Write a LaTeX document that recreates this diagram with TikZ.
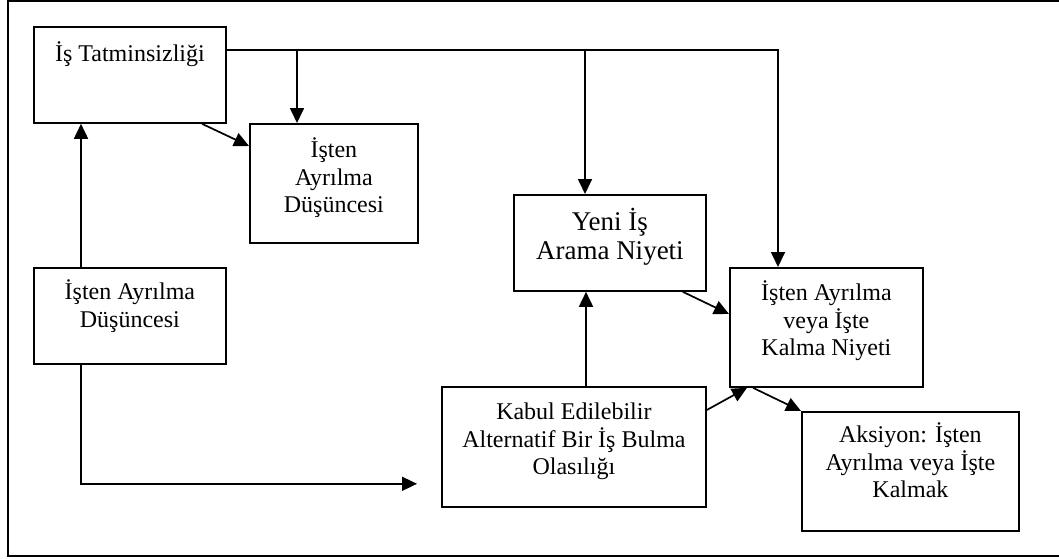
\documentclass[tikz,border=0pt]{standalone}
\usepackage{fontspec}
\setmainfont{Liberation Serif}
\usetikzlibrary{arrows.meta,calc}
% reserve room above the first baseline of every label
\newcommand\tstrut{\rule{0pt}{11pt}}
\newcommand\bstrut{\rule{0pt}{12pt}}
\tikzset{
  box/.style={draw, line width=0.9pt, inner sep=0pt, anchor=north west},
  lbl/.style={inner sep=0pt, anchor=north, align=center,
              font=\fontsize{12}{13.8}\selectfont},
  biglbl/.style={lbl, font=\fontsize{13.5}{14.6}\selectfont},
  arr/.style={line width=0.85pt, -{Triangle[length=7.5pt,width=7pt]}},
  frame/.style={line width=1.2pt}
}
\begin{document}
\begin{tikzpicture}[x=0.5pt, y=-0.5pt]
  \clip (0,0) rectangle (1059,558);
  \draw[frame] (8,1) rectangle (1080,556);

  % boxes
  \node[box, minimum width=96pt,   minimum height=48pt]   (A) at (33,26)   {};
  \node[box, minimum width=84pt,   minimum height=59.5pt] (B) at (249,123) {};
  \node[box, minimum width=96pt,   minimum height=48pt]   (C) at (33,267)  {};
  \node[box, minimum width=96pt,   minimum height=48pt]   (Y) at (513,194) {};
  \node[box, minimum width=96.5pt, minimum height=59.5pt] (D) at (729,267) {};
  \node[box, minimum width=132pt,  minimum height=60pt]   (E) at (441,386) {};
  \node[box, minimum width=108.5pt,minimum height=59.5pt] (F) at (801,411) {};

  % labels, set from the top of each box
  \node[lbl] (At) at ($(A.north)+(0,13)$) {\tstrut İş Tatminsizliği};
  \node[lbl] (Bt) at ($(B.north)+(0,12)$) {\tstrut İşten\\Ayrılma\\Düşüncesi};
  \node[lbl] (Ct) at ($(C.north)+(0,10)$) {\tstrut İşten Ayrılma\\Düşüncesi};
  \node[biglbl] (Yt) at ($(Y.north)+(0,12)$) {\bstrut Yeni İş\\Arama Niyeti};
  \node[lbl] (Dt) at ($(D.north)+(0,11)$) {\tstrut İşten Ayrılma\\veya İşte\\Kalma Niyeti};
  \node[lbl] (Et) at ($(E.north)+(0,11)$) {\tstrut Kabul Edilebilir\\Alternatif Bir İş Bulma\\Olasılığı};
  \node[lbl] (Ft) at ($(F.north)+(0,9)$)  {\tstrut Aksiyon: İşten\\Ayrılma veya İşte\\Kalmak};

  % junctions on the top bus
  \coordinate (j1) at ($(B.north west)+(48,-73)$);
  \coordinate (j2) at ($(Y.north west)+(72,-144)$);
  \coordinate (cEin) at ($(E.south west)+(-24,-24)$);

  % top bus from job dissatisfaction
  \draw[arr] ($(A.north east)+(0,24)$) -| ($(D.north west)+(49,0)$);
  \draw[arr] (j1) -- (j1 |- B.north);
  \draw[arr] (j2) -- (j2 |- Y.north);

  % diagonal links
  \draw[arr] ($(A.south west)+(169,0)$) -- ($(B.north west)+(0,23)$);
  \draw[arr] ($(Y.south east)+(-24,0)$) -- ($(D.north west)+(0,47)$);
  \draw[arr] ($(E.north east)+(0,24)$) -- ($(D.south west)+(18,0)$);
  \draw[arr] ($(D.south west)+(24,0)$) -- (F.north west);

  % vertical links
  \draw[arr] ($(C.north west)+(48,0)$) -- ($(A.south west)+(48,0)$);
  \draw[arr] ($(E.north west)+(145,0)$) -- ($(Y.south west)+(73,0)$);
  \draw[arr] ($(C.south west)+(48,0)$) |- (cEin);
\end{tikzpicture}
\end{document}
